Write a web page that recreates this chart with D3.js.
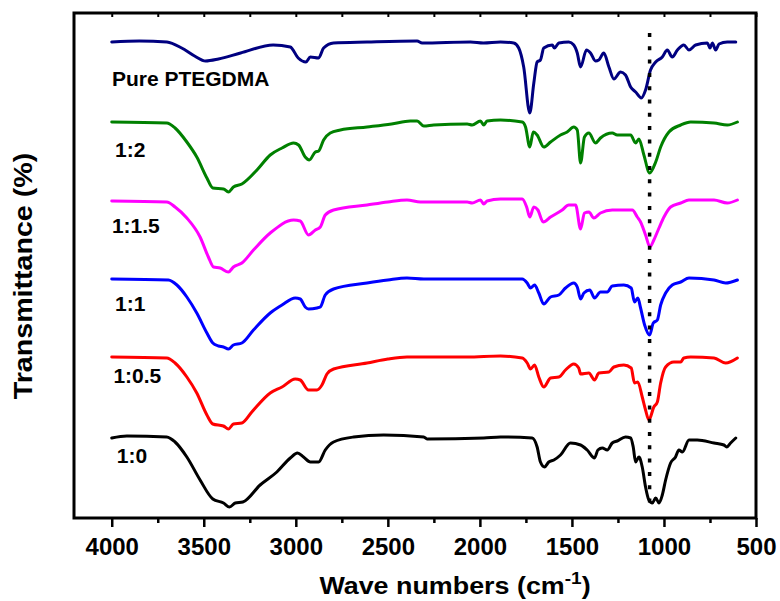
<!DOCTYPE html>
<html>
<head>
<meta charset="utf-8">
<script src="https://cdn.jsdelivr.net/npm/d3@7"></script>
<style>
  body { margin: 0; background: #fff; }
  text { font-family: Arial, "Liberation Sans", sans-serif; font-weight: bold; fill: #000; }
</style>
</head>
<body>
<svg id="chart" width="780" height="601"></svg>
<script>
// Spectres FTIR : [nombre d'onde (cm-1), transmittance (u.a., décalée)]
const purePTEGDMA = [[4000,47.6],[3850,47.7],[3700,47.6],[3620,47.0],[3550,46.2],[3490,45.7],[3420,45.9],[3300,46.5],[3123,47.3],[3030,47.1],[2987,46.0],[2945,45.6],[2921,46.1],[2876,46.0],[2849,47.0],[2795,47.5],[2613,47.6],[2341,47.7],[2314,47.5],[2051,47.6],[1981,47.5],[1888,47.6],[1816,47.5],[1789,47.0],[1762,45.1],[1729,40.5],[1707,43.5],[1689,45.6],[1671,45.8],[1653,47.0],[1607,47.3],[1595,47.0],[1571,47.5],[1517,47.6],[1490,47.3],[1471,46.5],[1453,45.1],[1421,46.8],[1399,46.5],[1372,45.7],[1354,45.8],[1327,46.5],[1299,45.1],[1272,43.9],[1236,44.6],[1209,44.3],[1181,43.1],[1154,42.6],[1123,42.0],[1100,42.8],[1073,44.8],[1045,45.6],[1009,46.1],[982,46.8],[955,46.1],[927,46.8],[892,47.3],[864,46.8],[828,47.3],[764,47.5],[750,47.0],[737,47.5],[719,46.8],[701,47.4],[656,47.6],[610,47.6]];

const ratio1to2 = [[4000,39.6],[3701,39.5],[3656,39.0],[3592,37.6],[3538,36.1],[3483,34.0],[3451,33.0],[3393,32.9],[3366,32.6],[3339,33.1],[3293,33.4],[3211,34.8],[3139,36.3],[3075,37.0],[3012,37.5],[2985,37.3],[2949,36.1],[2927,35.8],[2894,36.6],[2876,36.7],[2849,37.8],[2813,38.5],[2758,38.8],[2613,39.1],[2480,39.4],[2378,39.7],[2341,39.7],[2305,39.2],[2251,39.3],[2069,39.4],[2042,39.3],[1997,39.7],[1979,39.3],[1961,39.7],[1888,39.8],[1770,39.6],[1752,39.1],[1729,37.1],[1710,38.6],[1689,38.3],[1653,37.1],[1616,37.6],[1562,38.3],[1526,38.6],[1490,39.1],[1471,38.8],[1453,35.5],[1432,38.1],[1408,38.5],[1372,37.5],[1345,38.0],[1281,38.5],[1254,38.3],[1181,38.3],[1154,37.5],[1136,37.9],[1109,36.3],[1078,34.5],[1045,35.6],[1018,37.1],[973,38.6],[909,39.3],[855,39.6],[728,39.5],[656,39.3],[601,39.6]];

const ratio1to15 = [[4000,31.7],[3701,31.6],[3656,31.1],[3592,30.0],[3520,28.1],[3475,26.1],[3447,25.1],[3411,25.0],[3366,24.6],[3339,25.1],[3293,25.5],[3230,26.8],[3139,28.5],[3012,29.8],[2976,29.7],[2931,28.3],[2894,28.8],[2867,29.1],[2840,30.3],[2795,30.8],[2613,31.3],[2500,31.6],[2396,31.8],[2323,31.6],[2069,31.6],[2042,31.5],[1997,31.8],[1979,31.4],[1961,31.7],[1888,31.9],[1770,31.9],[1746,31.1],[1729,30.1],[1707,31.1],[1685,30.8],[1656,29.6],[1616,30.1],[1553,30.8],[1517,31.3],[1480,31.3],[1453,28.9],[1432,30.5],[1408,30.6],[1381,30.0],[1345,30.5],[1281,30.8],[1172,30.8],[1145,30.1],[1127,29.6],[1100,28.3],[1076,27.1],[1055,27.8],[1027,29.0],[1000,30.1],[964,31.1],[909,31.5],[864,31.8],[728,31.8],[656,31.5],[601,31.8]];

const ratio1to1 = [[4000,23.9],[3692,23.8],[3646,23.3],[3592,22.1],[3538,20.5],[3483,18.5],[3451,17.5],[3420,17.2],[3393,17.1],[3366,16.9],[3339,17.3],[3293,17.5],[3230,18.8],[3139,20.5],[3075,21.3],[3003,22.0],[2976,21.9],[2949,21.1],[2931,20.9],[2885,21.0],[2867,21.1],[2840,22.3],[2795,22.9],[2613,23.5],[2500,23.8],[2396,24.0],[2305,23.9],[2069,23.9],[1997,23.9],[1770,23.9],[1743,23.5],[1725,23.0],[1703,23.3],[1680,22.5],[1653,21.4],[1616,22.1],[1571,22.3],[1535,23.0],[1490,23.5],[1471,23.1],[1453,21.9],[1435,22.5],[1403,22.8],[1377,22.0],[1345,22.6],[1308,22.6],[1281,23.2],[1218,23.3],[1178,23.0],[1160,21.6],[1142,22.0],[1127,21.0],[1105,19.3],[1078,18.3],[1058,19.5],[1036,19.8],[1018,21.3],[991,22.5],[955,23.3],[909,23.6],[864,24.0],[728,23.8],[665,23.5],[601,23.8]];

const ratio1to05 = [[4000,16.1],[3701,16.0],[3656,15.5],[3592,14.1],[3538,12.5],[3483,10.3],[3451,9.4],[3393,9.2],[3366,8.9],[3339,9.4],[3293,9.5],[3239,10.6],[3139,12.5],[3075,13.1],[3003,13.9],[2976,13.8],[2931,12.8],[2885,12.8],[2858,13.3],[2831,14.4],[2795,14.9],[2613,15.5],[2500,15.9],[2396,16.1],[2069,16.1],[1888,16.2],[1770,16.0],[1743,15.5],[1725,14.9],[1703,15.3],[1680,14.1],[1653,13.1],[1616,14.0],[1571,14.1],[1535,14.8],[1490,15.4],[1463,15.0],[1453,14.4],[1408,14.5],[1377,13.8],[1354,14.5],[1299,14.6],[1272,15.1],[1218,15.3],[1178,15.0],[1160,13.5],[1142,13.6],[1118,12.1],[1100,10.8],[1082,9.8],[1055,11.1],[1036,11.6],[1018,13.5],[991,15.1],[946,15.6],[909,15.6],[892,16.0],[855,16.1],[728,16.0],[665,15.5],[601,16.0]];

const ratio1to0 = [[4000,8.0],[3918,8.2],[3701,8.1],[3656,7.6],[3592,6.1],[3520,3.8],[3451,1.9],[3393,1.5],[3360,1.1],[3329,1.5],[3288,1.6],[3194,3.3],[3103,4.6],[3030,6.0],[2991,6.5],[2958,6.1],[2921,5.6],[2876,5.6],[2840,6.8],[2795,7.6],[2686,8.1],[2523,8.3],[2305,8.1],[2287,7.9],[1979,8.0],[1888,8.1],[1716,8.0],[1689,7.1],[1671,5.6],[1649,5.1],[1626,5.6],[1598,5.8],[1562,6.3],[1508,7.5],[1453,7.3],[1417,6.8],[1377,6.0],[1359,6.8],[1335,7.0],[1308,6.8],[1281,7.5],[1254,7.7],[1209,8.1],[1181,8.0],[1167,7.1],[1154,5.6],[1136,6.1],[1118,5.1],[1100,3.1],[1082,1.8],[1063,1.5],[1045,2.0],[1027,1.5],[1009,2.3],[991,3.8],[964,5.5],[937,6.1],[919,6.8],[900,6.6],[864,7.8],[819,7.8],[728,7.5],[674,7.3],[659,7.1],[638,7.5],[610,8.0]];

const seriesNames = ["Pure PTEGDMA", "1:2", "1:1.5", "1:1", "1:0.5", "1:0"];
const seriesColors = ["#000080", "#008000", "#ff00ff", "#0000ff", "#ff0000", "#000000"];
const labelAnchors = [[3999, 43.2], [3982, 36.1], [3999, 28.5], [3982, 20.7], [3991, 13.5], [3973, 5.5]];
const majorTicks = [4000, 3500, 3000, 2500, 2000, 1500, 1000, 500];
const minorTicks = [3750, 3250, 2750, 2250, 1750, 1250, 750];
const markerWave = 1078;   // ligne pointillée
const markerRange = [48.5, 1.5];

const allSeries = [purePTEGDMA, ratio1to2, ratio1to15, ratio1to1, ratio1to05, ratio1to0];

// Echelles
const x = d3.scaleLinear().domain([4205, 500]).range([74, 756]);
const y = d3.scaleLinear().domain([0, 50.5]).range([518, 13]);

const svg = d3.select('#chart');

// Courbes
const line = d3.line().x(d => x(d[0])).y(d => y(d[1])).curve(d3.curveMonotoneX);

svg.append('g')
    .selectAll('path')
    .data(allSeries)
    .enter().append('path')
    .attr('d', line)
    .attr('fill', 'none')
    .attr('stroke', (d, i) => seriesColors[i])
    .attr('stroke-width', 3)
    .attr('stroke-linejoin', 'round')
    .attr('stroke-linecap', 'round');

// Ligne pointillée verticale
svg.append('line')
    .attr('x1', x(markerWave)).attr('x2', x(markerWave))
    .attr('y1', y(markerRange[0])).attr('y2', y(markerRange[1]))
    .attr('stroke', '#000')
    .attr('stroke-width', 3.5)
    .attr('stroke-dasharray', '4,9.3');

// Etiquettes des séries
svg.append('g')
    .selectAll('text')
    .data(seriesNames)
    .enter().append('text')
    .attr('x', (d, i) => x(labelAnchors[i][0]))
    .attr('y', (d, i) => y(labelAnchors[i][1]))
    .style('font-size', '21px')
    .text(d => d);

// Axe du bas (graduations majeures + mineures)
const xAxis = d3.axisBottom(x).tickValues(majorTicks).tickSize(9).tickPadding(11).tickFormat(d3.format('d'));
const gx = svg.append('g').attr('transform', 'translate(0,518)').call(xAxis);
gx.select('.domain').remove();
gx.selectAll('line').attr('stroke', '#000').attr('stroke-width', 2.5);
gx.selectAll('text').style('font-size', '24px').style('font-family', 'Arial, "Liberation Sans", sans-serif').style('font-weight', 'bold');

const gxMinor = svg.append('g').attr('transform', 'translate(0,518)')
    .call(d3.axisBottom(x).tickValues(minorTicks).tickSize(5).tickFormat(''));
gxMinor.select('.domain').remove();
gxMinor.selectAll('line').attr('stroke', '#000').attr('stroke-width', 2.5);

// Graduations du haut, vers l'intérieur
const gTop = svg.append('g').attr('transform', 'translate(0,13)')
    .call(d3.axisTop(x).tickValues(majorTicks.concat(minorTicks)).tickSize(-4).tickFormat(''));
gTop.select('.domain').remove();
gTop.selectAll('line').attr('stroke', '#000').attr('stroke-width', 2);

// Cadre
svg.append('rect')
    .attr('x', 74).attr('y', 13)
    .attr('width', 682).attr('height', 505)
    .attr('fill', 'none')
    .attr('stroke', '#000')
    .attr('stroke-width', 3);

// Titres des axes
const xTitle = svg.append('text')
    .attr('transform', 'translate(455,594) scale(1.12,1)')
    .attr('text-anchor', 'middle')
    .style('font-size', '24px');
xTitle.append('tspan').text('Wave numbers (cm');
xTitle.append('tspan').attr('dy', -10).style('font-size', '17px').text('-1');
xTitle.append('tspan').attr('dy', 10).text(')');

svg.append('text')
    .attr('transform', 'translate(32,276) rotate(-90) scale(1.1,1)')
    .attr('text-anchor', 'middle')
    .style('font-size', '26px')
    .text('Transmittance (%)');
</script>
</body>
</html>
